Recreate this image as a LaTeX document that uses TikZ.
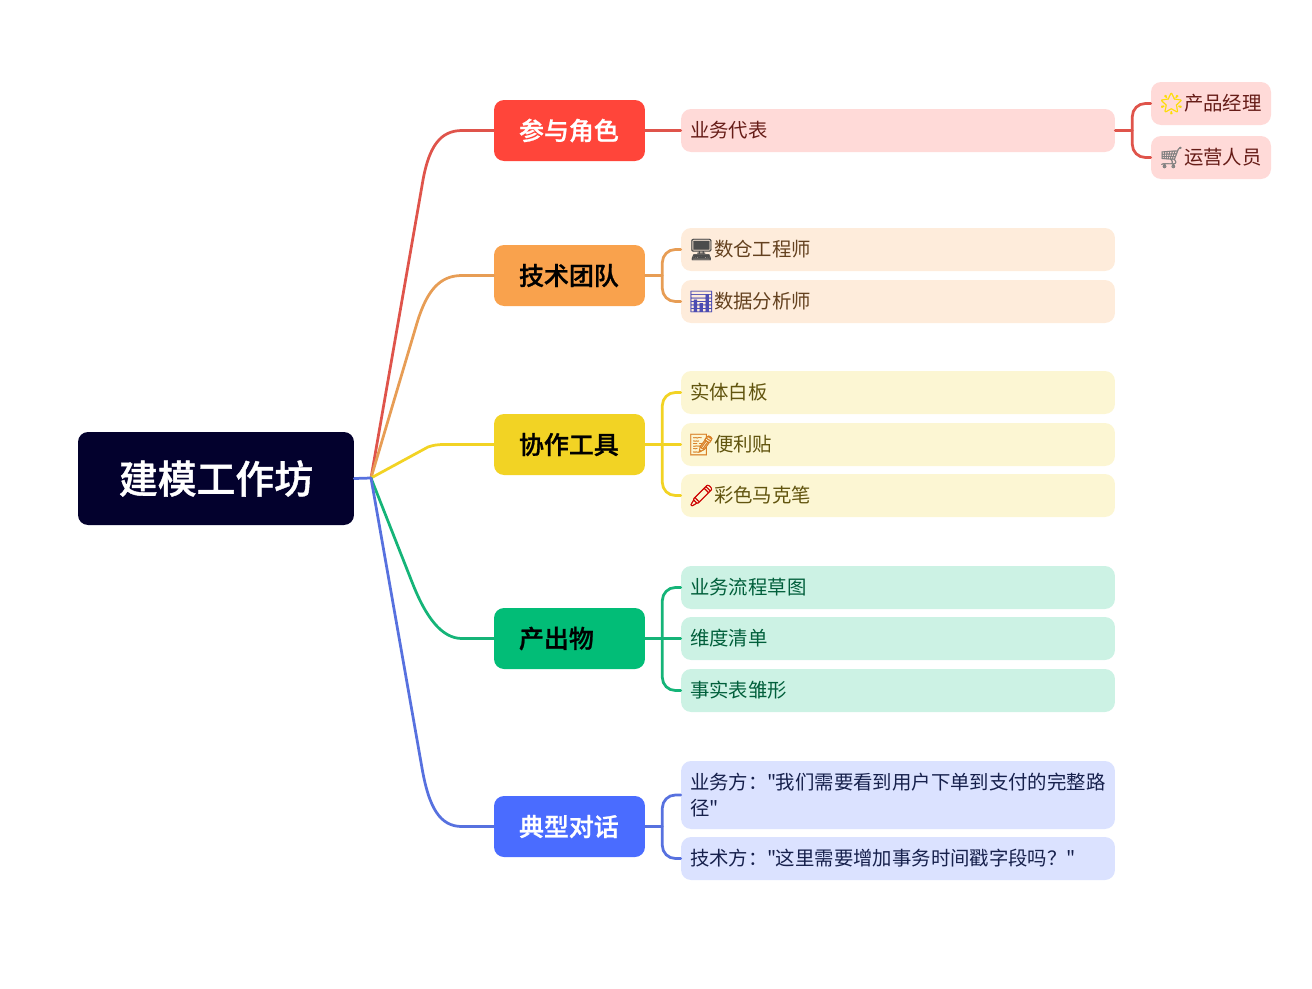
\documentclass[tikz,border=0pt]{standalone}
\usepackage{fontspec}
\setmainfont{Noto Sans CJK SC}[BoldFont={Noto Sans CJK SC Medium}, BoldFeatures={FakeBold=1}]
\newfontfamily\plainfont{Noto Sans CJK SC}
\newfontfamily\emojifont{Noto Emoji}[FakeBold=1, Scale=1.08]
\usepackage{tikz}
\usetikzlibrary{calc, positioning}
\usepackage{xcolor}
\definecolor{rootC}{RGB}{3, 1, 45}
\definecolor{roleC}{RGB}{255, 69, 58}
\definecolor{techC}{RGB}{249, 162, 77}
\definecolor{toolC}{RGB}{242, 211, 36}
\definecolor{outC}{RGB}{2, 189, 119}
\definecolor{talkC}{RGB}{74, 108, 255}
\newcommand{\emo}[2]{\makebox[0.48cm][l]{\hspace{-0.04cm}\emojifont\color{#1}#2}}
\newcommand{\qt}{{\plainfont\symbol{34}}\kern-0.02cm\relax}

\begin{document}
\begin{tikzpicture}[
  x=0.02cm, y=-0.02cm,
  rootbox/.style={fill=rootC, text=white, rounded corners=0.2cm, minimum width=5.52cm,
                  minimum height=1.86cm, inner sep=0pt, font=\fontsize{22.1}{26}\selectfont\bfseries},
  branch/.style={rounded corners=0.2cm, minimum width=3.02cm, minimum height=1.22cm,
                 text width=2.02cm, inner xsep=0.5cm, inner ysep=0pt, align=left,
                 font=\fontsize{14.2}{17}\selectfont\bfseries},
  leaf/.style={rounded corners=0.2cm, minimum height=0.86cm, text width=8.32cm,
               inner xsep=0.18cm, inner ysep=0pt, align=left,
               font=\fontsize{11.04}{14.7}\selectfont},
  small/.style={leaf, text width=2.04cm},
  link/.style={line width=0.055cm, line cap=round},
  bracket/.style={link, rounded corners=0.26cm}
]
  \useasboundingbox (0,0) rectangle (1312,988);

  % -- root --
  \node[rootbox] (root) at (216,478.5) {建模工作坊};
  \coordinate (hub) at (371,478);

  % -- branches --
  \node[branch, fill=roleC, text=white] (role) at (569.5,130.5) {参与角色};
  \node[branch, fill=techC, text=black] (tech) at (569.5,275.5) {技术团队};
  \node[branch, fill=toolC, text=black] (tool) at (569.5,444.5) {协作工具};
  \node[branch, fill=outC, text=black] (out) at (569.5,638.5) {产出物};
  \node[branch, fill=talkC, text=white] (talk) at (569.5,826.5) {典型对话};

  \draw[link, roleC!75!gray] (hub) -- (423,180) .. controls (429,147) and (440,130.5) .. (462,130.5) -- (role.west);
  \draw[link, techC!85!gray] (hub) -- (417,323) .. controls (427,290) and (440,275.5) .. (462,275.5) -- (tech.west);
  \draw[link, toolC] (hub) -- (428,447) .. controls (434,445) and (437,444.5) .. (446,444.5) -- (tool.west);
  \draw[link, outC!85!gray] (hub) -- (412,582) .. controls (426,618) and (442,638.5) .. (462,638.5) -- (out.west);
  \draw[link, talkC!75!gray] (hub) -- (422,768) .. controls (429,808) and (440,826.5) .. (462,826.5) -- (talk.west);
  \draw[link, talkC!75!gray] (root.east) -- (hub);

  % -- role --
  \begin{scope}[every node/.append style={fill=roleC!20, text=roleC!40!black}]
    \node[leaf] (role1) at (898,130.5) {业务代表};
    \node[small] (rep1) at (1211,103.5) {\emo{yellow!80!orange}{🌟}产品经理};
    \node[small] (rep2) at (1211,157.5) {\emo{gray}{🛒}运营人员};
  \end{scope}
  \draw[link, roleC!75!gray] (role.east) -- (role1.west);
  \draw[link, roleC!75!gray] (role1.east) -- ++(17,0) coordinate (roleFork);
  \draw[bracket, roleC!75!gray] (rep1.west) -| (roleFork) |- (rep2.west);

  % -- tech --
  \begin{scope}[every node/.append style={fill=techC!20, text=techC!40!black}]
    \node[leaf] (tech1) at (898,249.5) {\emo{black!70}{🖥}数仓工程师};
    \node[leaf] (tech2) at (898,301.5) {\emo{blue!40!gray}{📊}数据分析师};
  \end{scope}
  \draw[link, techC!85!gray] (tech.east) -- ++(17,0) coordinate (techFork);
  \draw[bracket, techC!85!gray] (tech1.west) -| (techFork) |- (tech2.west);

  % -- tool --
  \begin{scope}[every node/.append style={fill=toolC!20, text=toolC!40!black}]
    \node[leaf] (tool1) at (898,392.5) {实体白板};
    \node[leaf] (tool2) at (898,444.5) {\emo{orange!70!gray}{📝}便利贴};
    \node[leaf] (tool3) at (898,495.5) {\emo{red!80!black}{🖍}彩色马克笔};
  \end{scope}
  \draw[link, toolC] (tool.east) -- (tool2.west);
  \coordinate (toolFork) at ($(tool.east)+(17,0)$);
  \draw[bracket, toolC] (tool1.west) -| (toolFork) |- (tool3.west);

  % -- output --
  \begin{scope}[every node/.append style={fill=outC!20, text=outC!50!black}]
    \node[leaf] (out1) at (898,587.5) {业务流程草图};
    \node[leaf] (out2) at (898,638.5) {维度清单};
    \node[leaf] (out3) at (898,690.5) {事实表雏形};
  \end{scope}
  \draw[link, outC!85!gray] (out.east) -- (out2.west);
  \coordinate (outFork) at ($(out.east)+(17,0)$);
  \draw[bracket, outC!85!gray] (out1.west) -| (outFork) |- (out3.west);

  % -- talk --
  \begin{scope}[every node/.append style={fill=talkC!20, text=talkC!30!black}]
    \node[leaf, minimum height=1.36cm] (talk1) at (898,795) {业务方：\qt 我们需要看到用户下单到支付的完整路\\径\qt};
    \node[leaf] (talk2) at (898,858.5) {技术方：\qt 这里需要增加事务时间戳字段吗？\qt};
  \end{scope}
  \draw[link, talkC!75!gray] (talk.east) -- ++(17,0) coordinate (talkFork);
  \draw[bracket, talkC!75!gray] (talk1.west) -| (talkFork) |- (talk2.west);
\end{tikzpicture}
\end{document}
